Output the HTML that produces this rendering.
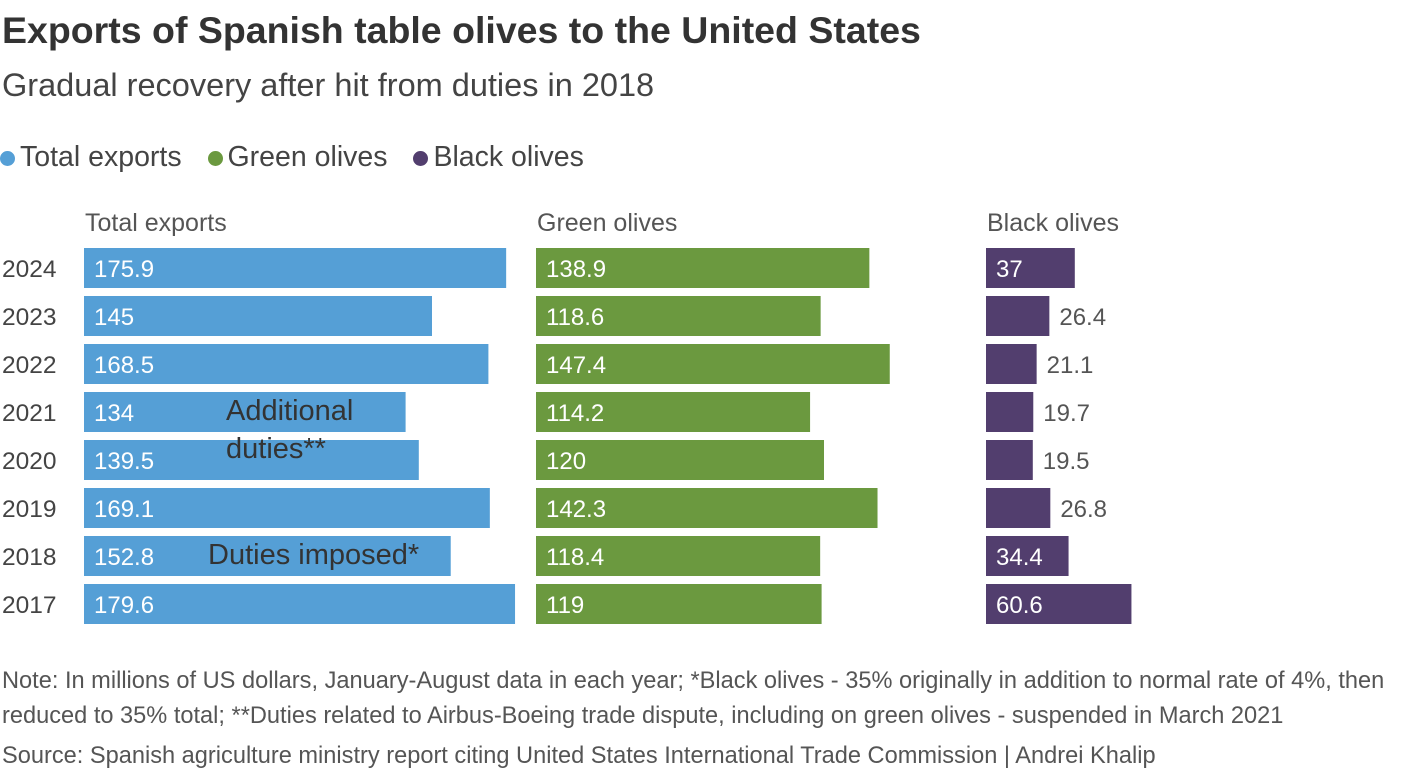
<!DOCTYPE html>
<html><head><meta charset="utf-8"><style>
body{margin:0;width:1420px;height:772px;background:#fff;font-family:"Liberation Sans",sans-serif;color:#333;position:relative;overflow:hidden}
.t{position:absolute;white-space:nowrap}
</style></head><body>
<div class="t" style="left:2px;top:9px;font-size:37.5px;font-weight:bold;color:#333">Exports of Spanish table olives to the United States</div>
<div class="t" style="left:2px;top:67px;font-size:32.5px;color:#444">Gradual recovery after hit from duties in 2018</div>
<div class="t" style="left:0;top:141px;font-size:28.5px;color:#444">
<span><span style="display:inline-block;width:15px;height:15px;border-radius:50%;background:#559fd6;margin-right:5px"></span>Total exports</span>
<span style="margin-left:18px"><span style="display:inline-block;width:15px;height:15px;border-radius:50%;background:#6b993f;margin-right:5px"></span>Green olives</span>
<span style="margin-left:18px"><span style="display:inline-block;width:15px;height:15px;border-radius:50%;background:#523e6e;margin-right:5px"></span>Black olives</span>
</div>
<svg id="chart" width="1420" height="772" style="position:absolute;left:0;top:0" font-family="Liberation Sans, sans-serif"></svg>
<div class="t" style="left:2px;top:664px;font-size:23.6px;color:#555;line-height:35px">Note: In millions of US dollars, January-August data in each year; *Black olives - 35% originally in addition to normal rate of 4%, then<br>reduced to 35% total; **Duties related to Airbus-Boeing trade dispute, including on green olives - suspended in March 2021</div>
<div class="t" style="left:2px;top:743px;font-size:23.6px;color:#555">Source: Spanish agriculture ministry report citing United States International Trade Commission | Andrei Khalip</div>
<script>
const years=["2024","2023","2022","2021","2020","2019","2018","2017"];
const totalVals=[175.9,145,168.5,134,139.5,169.1,152.8,179.6];
const greenVals=[138.9,118.6,147.4,114.2,120,142.3,118.4,119];
const blackVals=[37,26.4,21.1,19.7,19.5,26.8,34.4,60.6];
const panelNames=["Total exports","Green olives","Black olives"];
const svg=document.getElementById('chart');
const NS='http://www.w3.org/2000/svg';
const k=2.4;
function xs(v){return v*k;}
function ys(i){return 248+i*48;}
const panels=[{x:84,vals:totalVals,c:'#559fd6',id:'total'},{x:536,vals:greenVals,c:'#6b993f',id:'green'},{x:986,vals:blackVals,c:'#523e6e',id:'black'}];
function txt(x,y,s,size,fill){const t=document.createElementNS(NS,'text');t.setAttribute('x',x);t.setAttribute('y',y);t.setAttribute('font-size',size);t.setAttribute('fill',fill);t.textContent=s;svg.appendChild(t);return t;}
years.forEach((y,i)=>{const t=txt(2,ys(i)+29,y,24.5,'#444');

});
panels.forEach((p,pi)=>{
const h=txt(p.x+1,231,panelNames[pi],25,'#555');


p.vals.forEach((v,i)=>{
const r=document.createElementNS(NS,'rect');
r.setAttribute('x',p.x);r.setAttribute('y',ys(i));r.setAttribute('width',xs(v));r.setAttribute('height',40);r.setAttribute('fill',p.c);


svg.appendChild(r);
const inside=xs(v)>75;
const l=txt(inside?p.x+10:p.x+xs(v)+10,ys(i)+29,String(v),24,inside?'#fff':'#555');


});});
[["Additional",226,420],["duties**",226,458],["Duties imposed*",208,564]].forEach(a=>{const t=txt(a[1],a[2],a[0],29,'#333');

});
</script>
</body></html>
